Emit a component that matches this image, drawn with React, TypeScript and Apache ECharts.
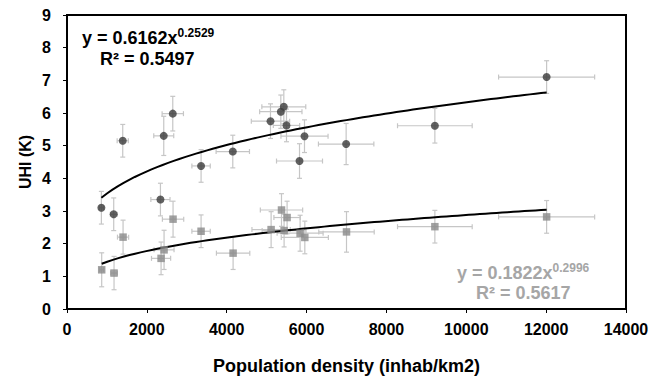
import React, { useEffect, useRef } from "react";
import * as echarts from "echarts";

// Population density (inhab/km2) per city, with its uncertainty
const densityUpper = [861, 1170, 1396, 2340, 2423, 2649, 3358, 4152, 5096, 5355, 5430, 5497, 5823, 5948, 6991, 9213, 12012];
const densityLower = [869, 1178, 1404, 2356, 2431, 2656, 3358, 4160, 5112, 5372, 5437, 5512, 5838, 5956, 7000, 9213, 12012];
const densityErr = [50, 85, 140, 240, 250, 267, 230, 418, 480, 530, 550, 330, 576, 590, 694, 935, 1203];

// UHI (K) for both series, with their uncertainty
const uhiUpper = [3.10, 2.90, 5.15, 3.35, 5.30, 5.98, 4.38, 4.82, 5.75, 6.04, 6.19, 5.62, 4.53, 5.29, 5.05, 5.61, 7.10];
const uhiUpperErr = [0.5, 0.5, 0.5, 0.5, 0.6, 0.53, 0.5, 0.5, 0.53, 0.51, 0.52, 0.5, 0.53, 0.5, 0.63, 0.53, 0.5];
const uhiLower = [1.20, 1.10, 2.20, 1.55, 1.81, 2.75, 2.38, 1.71, 2.43, 3.03, 2.40, 2.80, 2.32, 2.19, 2.36, 2.52, 2.82];
const uhiLowerErr = [0.52, 0.51, 0.52, 0.5, 0.6, 0.55, 0.5, 0.5, 0.55, 0.5, 0.5, 0.5, 0.55, 0.5, 0.62, 0.5, 0.5];

// Power-law fits y = a·x^b
const fitUpper = { a: 0.6162, b: 0.2529, r2: "0.5497" };
const fitLower = { a: 0.1822, b: 0.2996, r2: "0.5617" };

const xTicks = { min: 0, max: 14000, interval: 2000 };
const yTicks = { min: 0, max: 9, interval: 1 };

const FONT = "Liberation Sans, Arial, sans-serif";

function fitCurve(fit: { a: number; b: number }, x0: number, x1: number) {
  const pts: number[][] = [];
  const n = 80;
  for (let i = 0; i <= n; i++) {
    const x = x0 + ((x1 - x0) * i) / n;
    pts.push([x, fit.a * Math.pow(x, fit.b)]);
  }
  return pts;
}

function errorRows(xs: number[], ys: number[], yErr: number[]) {
  return xs.map((x, i) => [x, ys[i], densityErr[i], yErr[i]]);
}

function renderErrorBar(_params: any, api: any) {
  const x = api.value(0);
  const y = api.value(1);
  const ex = api.value(2);
  const ey = api.value(3);
  const l = api.coord([x - ex, y]);
  const r = api.coord([x + ex, y]);
  const t = api.coord([x, y + ey]);
  const b = api.coord([x, y - ey]);
  const cap = 2.5;
  const style = { stroke: "#c6c6c6", lineWidth: 1.2 };
  return {
    type: "group",
    children: [
      { type: "line", shape: { x1: l[0], y1: l[1], x2: r[0], y2: r[1] }, style },
      { type: "line", shape: { x1: l[0], y1: l[1] - cap, x2: l[0], y2: l[1] + cap }, style },
      { type: "line", shape: { x1: r[0], y1: r[1] - cap, x2: r[0], y2: r[1] + cap }, style },
      { type: "line", shape: { x1: t[0], y1: t[1], x2: b[0], y2: b[1] }, style },
      { type: "line", shape: { x1: t[0] - cap, y1: t[1], x2: t[0] + cap, y2: t[1] }, style },
      { type: "line", shape: { x1: b[0] - cap, y1: b[1], x2: b[0] + cap, y2: b[1] }, style },
    ],
  };
}

function equationText(fit: { a: number; b: number }) {
  return `{m|y = ${fit.a}x}{s|${fit.b}}`;
}

export default function App() {
  const ref = useRef<HTMLDivElement>(null);

  useEffect(() => {
    document.body.style.margin = "0";
    if (!ref.current) return;
    const chart = echarts.init(ref.current, null, { renderer: "svg" });

    const upperLast = densityUpper.length - 1;
    const lowerLast = densityLower.length - 1;

    const eqRich = (color: string) => ({
      m: { fontSize: 18, fontWeight: "bold", fontFamily: FONT, fill: color, lineHeight: 20, verticalAlign: "bottom" },
      s: { fontSize: 12, fontWeight: "bold", fontFamily: FONT, fill: color, lineHeight: 20, verticalAlign: "top" },
    });

    const tickLabel = { fontSize: 16, fontWeight: "bold", fontFamily: FONT, color: "#000" };

    chart.setOption({
      animation: false,
      backgroundColor: "#ffffff",
      grid: {
        left: 67,
        right: 27,
        top: 15,
        bottom: 73,
        show: true,
        borderColor: "#000000",
        borderWidth: 2,
        backgroundColor: "transparent",
      },
      xAxis: {
        type: "value",
        min: xTicks.min,
        max: xTicks.max,
        interval: xTicks.interval,
        name: "Population density (inhab/km2)",
        nameLocation: "middle",
        nameGap: 48,
        nameTextStyle: { fontSize: 18, fontWeight: "bold", fontFamily: FONT, color: "#000" },
        axisLine: { show: true, lineStyle: { color: "#000", width: 2 } },
        axisTick: { show: true, inside: false, length: 4, lineStyle: { color: "#000", width: 1 } },
        axisLabel: { ...tickLabel, margin: 12, formatter: (v: number) => String(v) },
        splitLine: { show: false },
      },
      yAxis: {
        type: "value",
        min: yTicks.min,
        max: yTicks.max,
        interval: yTicks.interval,
        name: "UHI (K)",
        nameLocation: "middle",
        nameGap: 34,
        nameMoveOverlap: false,
        nameTextStyle: { fontSize: 16, fontWeight: "bold", fontFamily: FONT, color: "#000" },
        axisLine: { show: true, lineStyle: { color: "#000", width: 2 } },
        axisTick: { show: true, inside: false, length: 4, lineStyle: { color: "#000", width: 1 } },
        axisLabel: { ...tickLabel, margin: 16, formatter: (v: number) => String(v) },
        splitLine: { show: false },
      },
      graphic: [
        {
          type: "text",
          left: 82,
          top: 27,
          style: { text: equationText(fitUpper), rich: eqRich("#000000") },
        },
        {
          type: "text",
          left: 100,
          top: 50,
          style: {
            text: `R² = ${fitUpper.r2}`,
            fontSize: 18,
            fontWeight: "bold",
            fontFamily: FONT,
            fill: "#000000",
          },
        },
        {
          type: "text",
          left: 457,
          top: 262,
          style: { text: equationText(fitLower), rich: eqRich("#a6a6a6") },
        },
        {
          type: "text",
          left: 476,
          top: 284,
          style: {
            text: `R² = ${fitLower.r2}`,
            fontSize: 18,
            fontWeight: "bold",
            fontFamily: FONT,
            fill: "#a6a6a6",
          },
        },
      ],
      series: [
        {
          type: "custom",
          name: "upper errors",
          renderItem: renderErrorBar,
          data: errorRows(densityUpper, uhiUpper, uhiUpperErr),
          encode: { x: 0, y: 1 },
          z: 1,
          silent: true,
        },
        {
          type: "custom",
          name: "lower errors",
          renderItem: renderErrorBar,
          data: errorRows(densityLower, uhiLower, uhiLowerErr),
          encode: { x: 0, y: 1 },
          z: 1,
          silent: true,
        },
        {
          type: "line",
          name: "upper fit",
          data: fitCurve(fitUpper, densityUpper[0], densityUpper[upperLast]),
          showSymbol: false,
          lineStyle: { color: "#000", width: 2 },
          z: 2,
        },
        {
          type: "line",
          name: "lower fit",
          data: fitCurve(fitLower, densityLower[0], densityLower[lowerLast]),
          showSymbol: false,
          lineStyle: { color: "#000", width: 2 },
          z: 2,
        },
        {
          type: "scatter",
          name: "upper",
          data: densityUpper.map((x, i) => [x, uhiUpper[i]]),
          symbol: "circle",
          symbolSize: 8,
          itemStyle: { color: "#3a3a3a" },
          z: 3,
        },
        {
          type: "scatter",
          name: "lower",
          data: densityLower.map((x, i) => [x, uhiLower[i]]),
          symbol: "rect",
          symbolSize: 7.5,
          itemStyle: { color: "#8a8a8a" },
          z: 3,
        },
      ],
    });

    return () => chart.dispose();
  }, []);

  return <div ref={ref} style={{ width: 653, height: 382 }} />;
}
